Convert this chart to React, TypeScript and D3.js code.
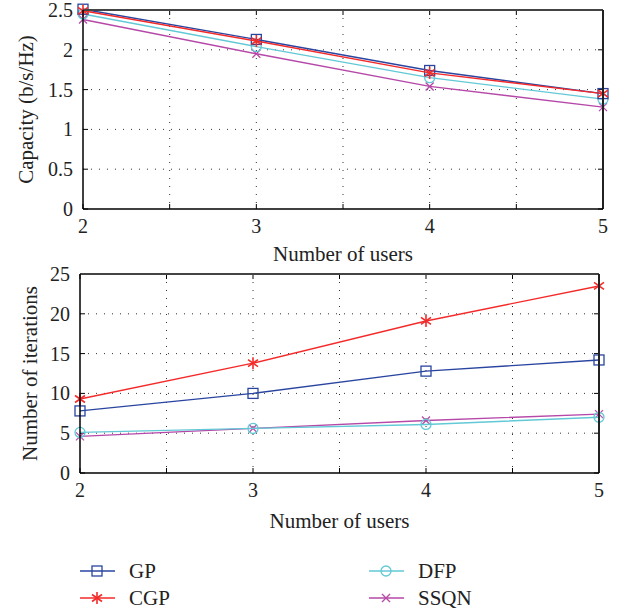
import React from 'react';
import * as d3 from 'd3';

const users = [2, 3, 4, 5];
const xTicks = [2, 2.5, 3, 3.5, 4, 4.5, 5];
const xLabels = ['2', '', '3', '', '4', '', '5'];

const capGP = [2.51, 2.13, 1.74, 1.45];
const capCGP = [2.49, 2.11, 1.71, 1.45];
const capDFP = [2.45, 2.04, 1.65, 1.38];
const capSSQN = [2.38, 1.95, 1.54, 1.28];
const capTicks = [0, 0.5, 1, 1.5, 2, 2.5];

const itGP = [7.8, 10.0, 12.8, 14.2];
const itCGP = [9.3, 13.8, 19.1, 23.5];
const itDFP = [5.1, 5.6, 6.1, 7.0];
const itSSQN = [4.6, 5.6, 6.6, 7.4];
const itTicks = [0, 5, 10, 15, 20, 25];

const names = ['GP', 'CGP', 'DFP', 'SSQN'];
const colors = ['#2a45a0', '#f42a2a', '#62c9d6', '#b548a8'];
const markers = ['square', 'star', 'circle', 'x'];

const FONT = '"Liberation Serif", "DejaVu Serif", serif';

const Marker = ({ kind, x, y, color }: { kind: string; x: number; y: number; color: string }) => {
  const s = 5;
  if (kind === 'square') return <rect x={x - s} y={y - s} width={2 * s} height={2 * s} fill="none" stroke={color} strokeWidth={1.3} />;
  if (kind === 'circle') return <circle cx={x} cy={y} r={s} fill="none" stroke={color} strokeWidth={1.3} />;
  if (kind === 'x')
    return (
      <g stroke={color} strokeWidth={1.3}>
        <line x1={x - 4} y1={y - 4} x2={x + 4} y2={y + 4} />
        <line x1={x - 4} y1={y + 4} x2={x + 4} y2={y - 4} />
      </g>
    );
  // star (asterisk)
  return (
    <g stroke={color} strokeWidth={1.6}>
      <line x1={x} y1={y - 6} x2={x} y2={y + 6} />
      <line x1={x - 5} y1={y - 3.5} x2={x + 5} y2={y + 3.5} />
      <line x1={x - 5} y1={y + 3.5} x2={x + 5} y2={y - 3.5} />
    </g>
  );
};

const Panel = ({ left, right, top, bottom, series, yMax, yTicks, yLabel, labelX, titleGap }: {
  left: number; right: number; top: number; bottom: number; series: number[][]; yMax: number;
  yTicks: number[]; yLabel: string; labelX: number; titleGap: number;
}) => {
  const x = d3.scaleLinear().domain([2, 5]).range([left, right]);
  const y = d3.scaleLinear().domain([0, yMax]).range([bottom, top]);
  const line = d3.line<number>().x((_, i) => x(users[i])).y(d => y(d));
  const order = [3, 2, 0, 1];
  return (
    <g fontFamily={FONT} fill="#222">
      {/* grid */}
      {xTicks.slice(1, -1).map(t => (
        <line key={'gx' + t} x1={x(t)} x2={x(t)} y1={top} y2={bottom} stroke="#333" strokeWidth={1} strokeDasharray="1,7" />
      ))}
      {yTicks.slice(1, -1).map(t => (
        <line key={'gy' + t} x1={left} x2={right} y1={y(t)} y2={y(t)} stroke="#333" strokeWidth={1} strokeDasharray="1,7" />
      ))}
      {/* tick marks */}
      {xTicks.map(t => (
        <g key={'tx' + t} stroke="#000">
          <line x1={x(t)} x2={x(t)} y1={bottom} y2={bottom - 5} />
          <line x1={x(t)} x2={x(t)} y1={top} y2={top + 5} />
        </g>
      ))}
      {yTicks.map(t => (
        <g key={'ty' + t} stroke="#000">
          <line x1={left} x2={left + 5} y1={y(t)} y2={y(t)} />
          <line x1={right} x2={right - 5} y1={y(t)} y2={y(t)} />
        </g>
      ))}
      {/* series */}
      {order.map(i => (
        <g key={names[i]}>
          <path d={line(series[i]) || ''} fill="none" stroke={colors[i]} strokeWidth={1.4} />
          {series[i].map((v, j) => (
            <Marker key={j} kind={markers[i]} x={x(users[j])} y={y(v)} color={colors[i]} />
          ))}
        </g>
      ))}
      {/* frame */}
      <line x1={left} x2={right} y1={top} y2={top} stroke="#444" strokeWidth={2} />
      <line x1={right} x2={right} y1={top} y2={bottom} stroke="#222" strokeWidth={2} />
      <line x1={left} x2={left} y1={top} y2={bottom} stroke="#000" strokeWidth={1.5} />
      <line x1={left} x2={right} y1={bottom} y2={bottom} stroke="#000" strokeWidth={1.5} />
      {/* labels */}
      {xTicks.map((t, i) => xLabels[i] ? (
        <text key={'lx' + t} x={x(t)} y={bottom + 24} textAnchor="middle" fontSize={20}>{xLabels[i]}</text>
      ) : null)}
      {yTicks.map(t => (
        <text key={'ly' + t} x={left - 10} y={y(t) + 7} textAnchor="end" fontSize={20}>{String(t)}</text>
      ))}
      <text x={(left + right) / 2} y={bottom + titleGap} textAnchor="middle" fontSize={21}>Number of users</text>
      <text transform={`translate(${labelX},${(top + bottom) / 2}) rotate(-90)`} textAnchor="middle" fontSize={21}>{yLabel}</text>
    </g>
  );
};

const App = () => {
  const legendPos = [
    { x: 80, y: 571 },
    { x: 80, y: 598 },
    { x: 369, y: 571 },
    { x: 369, y: 598 },
  ];
  return (
    <svg width={624} height={613} style={{ display: 'block', position: 'absolute', left: 0, top: 0, background: '#fff' }}>
      <Panel left={83} right={603} top={10} bottom={209} series={[capGP, capCGP, capDFP, capSSQN]} yMax={2.5}
        yTicks={capTicks} yLabel="Capacity (b/s/Hz)" labelX={33} titleGap={52} />
      <Panel left={80} right={599} top={274} bottom={473} series={[itGP, itCGP, itDFP, itSSQN]} yMax={25}
        yTicks={itTicks} yLabel="Number of iterations" labelX={37} titleGap={55} />
      {names.map((n, i) => (
        <g key={n} fontFamily={FONT}>
          <line x1={legendPos[i].x} x2={legendPos[i].x + 35} y1={legendPos[i].y} y2={legendPos[i].y} stroke={colors[i]} strokeWidth={1.4} />
          <Marker kind={markers[i]} x={legendPos[i].x + 17} y={legendPos[i].y} color={colors[i]} />
          <text x={legendPos[i].x + 49} y={legendPos[i].y + 7} fontSize={21} fill="#222">{n}</text>
        </g>
      ))}
    </svg>
  );
};

export default App;
